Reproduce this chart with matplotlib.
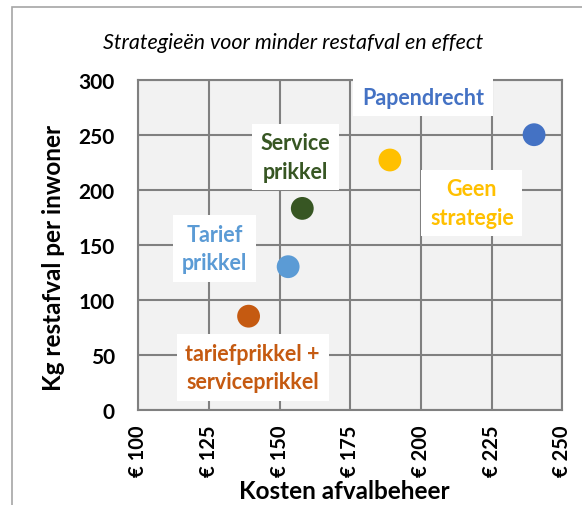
import matplotlib.pyplot as plt
from matplotlib.patches import Rectangle

plt.rcParams['font.family'] = ['Lato', 'DejaVu Sans']

# data
strategies = ["Papendrecht", "Geen\nstrategie", "Service\nprikkel", "Tarief\nprikkel",
              "tariefprikkel +\nserviceprikkel"]
costs = [240, 189, 158, 153, 139]
restafval = [250, 227, 183, 130, 85]
colors = ["#4472C4", "#FFC000", "#375623", "#5B9BD5", "#C55A11"]
# label offsets in points, relative to point
offsets = [(-80, 27), (59, -31), (-5, 37), (-53, 13), (3, -37)]

x_ticks = [100, 125, 150, 175, 200, 225, 250]
y_ticks = [0, 50, 100, 150, 200, 250, 300]

fig = plt.figure(figsize=(5.82, 5.06), dpi=100)
fig.patches.append(Rectangle((12 / 582, -0.1), 1.2, 1 - 8 / 506 + 0.1,
                             transform=fig.transFigure, fill=False,
                             edgecolor="#A6A6A6", linewidth=1.2))

ax = fig.add_axes([0.2377, 0.1884, 0.7285, 0.6521])
ax.set_facecolor("#F2F2F2")
ax.set_xlim(100, 250)
ax.set_ylim(0, 300)
ax.set_xticks(x_ticks)
ax.set_yticks(y_ticks)
ax.set_xticklabels(["€ %d" % t for t in x_ticks], rotation=90,
                   fontsize=14.5, fontweight="bold")
ax.set_yticklabels([str(t) for t in y_ticks], fontsize=15, fontweight="bold")
ax.tick_params(axis="x", length=0, pad=11)
ax.tick_params(axis="y", length=0, pad=17)
ax.grid(True, color="#808080", linewidth=1.5)
ax.set_axisbelow(True)
for s in ax.spines.values():
    s.set_color("#808080")
    s.set_linewidth(1.5)

ax.scatter(costs, restafval, s=270, c=colors, zorder=3, linewidths=0)

for name, x, y, c, off in zip(strategies, costs, restafval, colors, offsets):
    ax.annotate(name, (x, y), xytext=off, textcoords="offset points",
                ha="center", va="center", color=c, fontsize=15.5,
                fontweight="bold", linespacing=1.45, zorder=4,
                bbox=dict(boxstyle="square,pad=0.4", fc="white", ec="none"))

ax.set_xlabel("Kosten afvalbeheer", fontsize=17.5, fontweight="bold", va="center")
ax.set_ylabel("Kg restafval per inwoner", fontsize=17.5, fontweight="bold", va="center")
ax.xaxis.set_label_coords(0.486, -0.245)
ax.yaxis.set_label_coords(-0.201, 0.463)
fig.text(0.503, 1 - 43 / 506, "Strategieën voor minder restafval en effect",
         ha="center", va="center", fontsize=15.5, style="italic")

fig.savefig("out.png", dpi=100)
